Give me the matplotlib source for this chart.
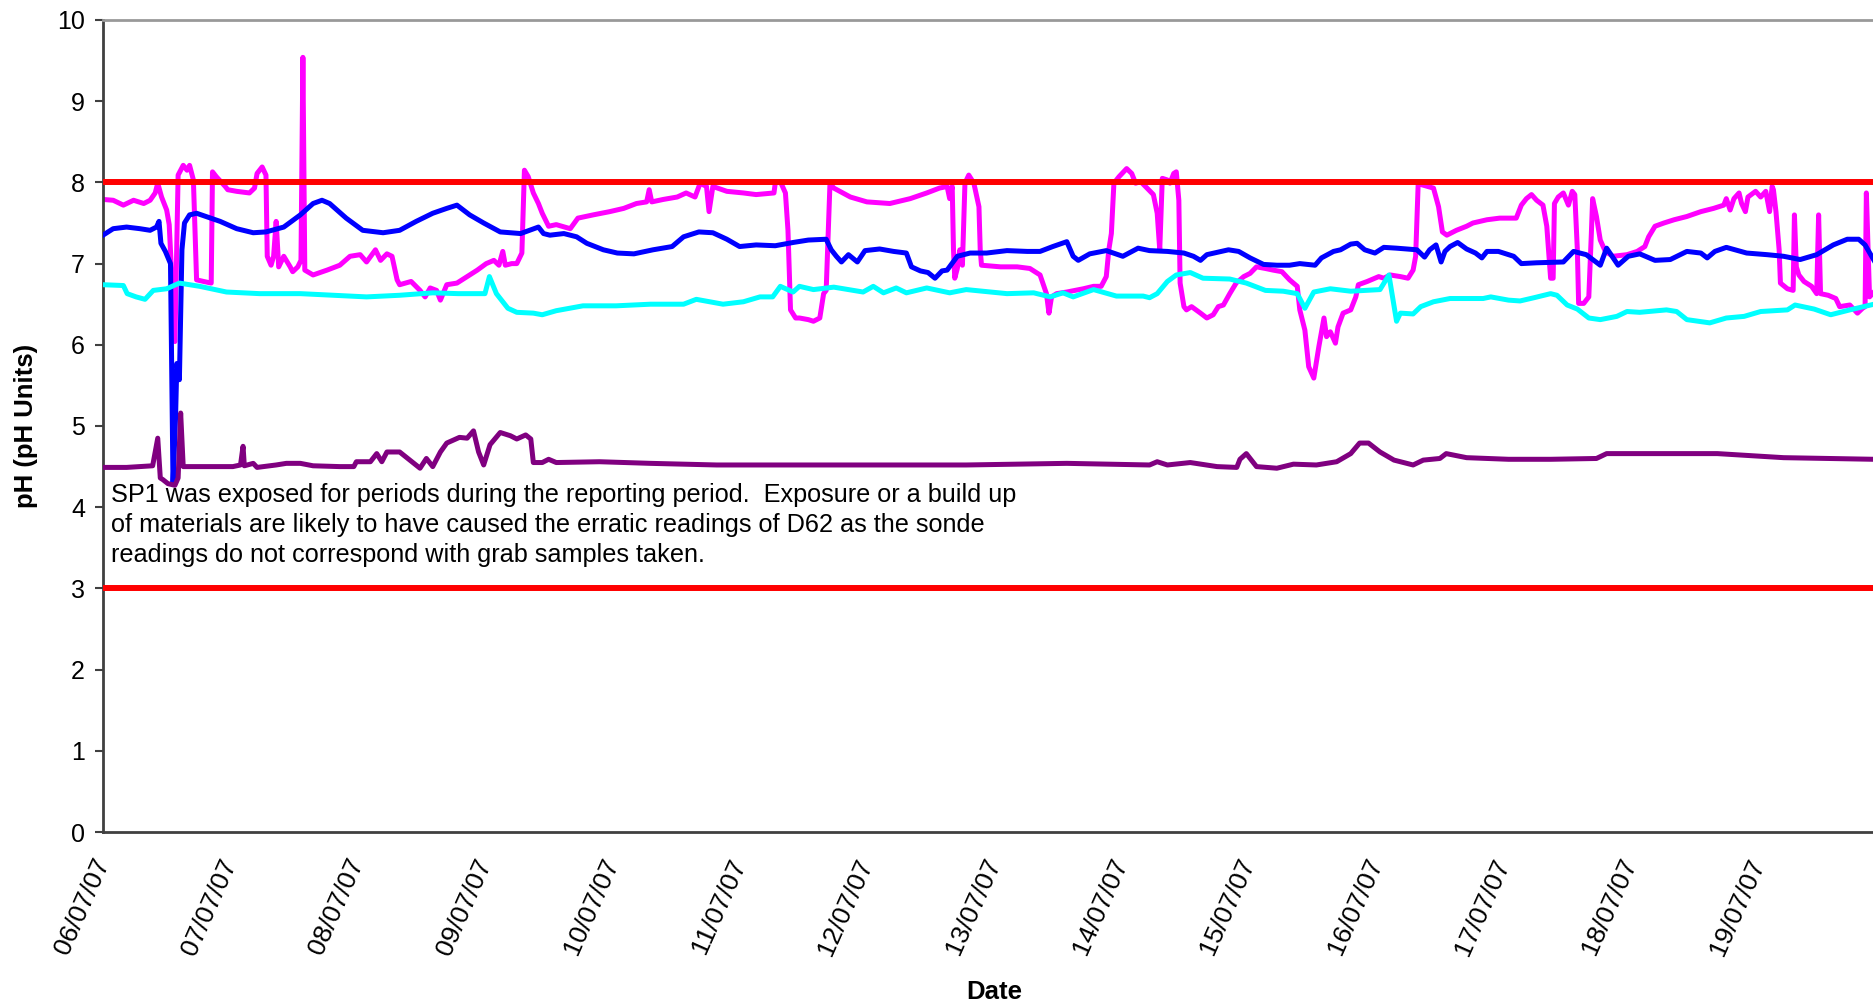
import datetime as dt
import numpy as np
import matplotlib
matplotlib.use("Agg")
import matplotlib.pyplot as plt
import matplotlib.dates as mdates

plt.rcParams['font.family'] = ['Liberation Sans', 'DejaVu Sans']

start_date = dt.datetime(2007, 7, 6)
end_days = 13.91

# ---- series (days since 06/07/07 00:00, pH) ----
magenta_days = [0.00, 0.08, 0.16, 0.24, 0.32, 0.37, 0.41, 0.43, 0.46, 0.50, 0.52, 0.565, 0.59, 0.63, 0.66, 0.68, 0.71, 0.735, 0.79, 0.85,
                0.86, 0.89, 0.96, 0.98, 1.05, 1.15, 1.19, 1.21, 1.25, 1.28, 1.29, 1.32, 1.34, 1.36, 1.38, 1.42, 1.47, 1.49, 1.53, 1.555,
                1.57, 1.585, 1.65, 1.76, 1.86, 1.94, 2.02, 2.07, 2.14, 2.18, 2.23, 2.27, 2.31, 2.33, 2.42, 2.49, 2.53, 2.57, 2.62, 2.65,
                2.70, 2.78, 2.94, 3.01, 3.07, 3.11, 3.14, 3.16, 3.21, 3.25, 3.29, 3.31, 3.34, 3.38, 3.42, 3.45, 3.50, 3.56, 3.67, 3.73,
                3.85, 3.98, 4.09, 4.19, 4.27, 4.29, 4.31, 4.40, 4.51, 4.58, 4.65, 4.69, 4.74, 4.76, 4.79, 4.90, 5.03, 5.13, 5.27, 5.28,
                5.32, 5.36, 5.38, 5.40, 5.44, 5.47, 5.54, 5.58, 5.63, 5.66, 5.68, 5.71, 5.74, 5.87, 6.00, 6.18, 6.34, 6.47, 6.57, 6.63,
                6.65, 6.67, 6.68, 6.69, 6.71, 6.73, 6.75, 6.77, 6.80, 6.84, 6.88, 6.89, 6.90, 7.05, 7.18, 7.28, 7.36, 7.41, 7.43, 7.45,
                7.49, 7.57, 7.70, 7.78, 7.84, 7.88, 7.90, 7.92, 7.94, 7.98, 8.04, 8.08, 8.11, 8.15, 8.20, 8.25, 8.28, 8.30, 8.32, 8.36,
                8.38, 8.41, 8.43, 8.45, 8.46, 8.49, 8.51, 8.55, 8.62, 8.67, 8.72, 8.76, 8.80, 8.85, 8.90, 8.96, 9.01, 9.06, 9.13, 9.19,
                9.26, 9.32, 9.38, 9.40, 9.44, 9.47, 9.51, 9.55, 9.59, 9.61, 9.64, 9.68, 9.70, 9.74, 9.80, 9.84, 9.86, 9.93, 10.02, 10.06,
                10.11, 10.19, 10.25, 10.29, 10.31, 10.33, 10.36, 10.45, 10.49, 10.52, 10.555, 10.63, 10.71, 10.76, 10.87, 10.97, 11.10, 11.14, 11.18, 11.22,
                11.26, 11.31, 11.34, 11.37, 11.39, 11.40, 11.43, 11.47, 11.51, 11.54, 11.56, 11.58, 11.59, 11.63, 11.67, 11.69, 11.70, 11.73, 11.76, 11.80,
                11.86, 11.97, 12.05, 12.11, 12.14, 12.19, 12.26, 12.34, 12.44, 12.55, 12.65, 12.73, 12.75, 12.78, 12.81, 12.85, 12.87, 12.90, 12.92, 12.98,
                13.02, 13.06, 13.09, 13.11, 13.12, 13.14, 13.165, 13.175, 13.23, 13.275, 13.285, 13.30, 13.32, 13.36, 13.42, 13.46, 13.475, 13.49, 13.55, 13.61,
                13.64, 13.72, 13.78, 13.82, 13.84, 13.85, 13.875, 13.91]
magenta_ph = [7.79, 7.78, 7.72, 7.78, 7.74, 7.78, 7.87, 7.99, 7.82, 7.66, 7.48, 6.04, 8.09, 8.21, 8.15, 8.21, 8.03, 6.80, 6.78, 6.76,
              8.13, 8.07, 7.95, 7.91, 7.89, 7.87, 7.93, 8.11, 8.19, 8.09, 7.09, 6.98, 7.09, 7.52, 6.96, 7.09, 6.96, 6.90, 6.96, 7.04,
              9.54, 6.92, 6.86, 6.92, 6.98, 7.09, 7.11, 7.02, 7.17, 7.04, 7.12, 7.09, 6.80, 6.74, 6.78, 6.67, 6.59, 6.70, 6.67, 6.55,
              6.74, 6.76, 6.92, 7.00, 7.04, 6.98, 7.15, 6.98, 7.00, 7.00, 7.13, 8.15, 8.07, 7.87, 7.74, 7.62, 7.46, 7.48, 7.43, 7.56,
              7.60, 7.64, 7.68, 7.74, 7.76, 7.91, 7.76, 7.79, 7.82, 7.87, 7.82, 7.99, 7.95, 7.64, 7.95, 7.89, 7.87, 7.85, 7.87, 7.99,
              8.01, 7.87, 7.41, 6.43, 6.33, 6.33, 6.31, 6.29, 6.33, 6.63, 6.67, 7.99, 7.93, 7.82, 7.76, 7.74, 7.80, 7.87, 7.93, 7.95,
              7.80, 7.95, 7.17, 6.82, 6.94, 7.17, 6.98, 7.99, 8.09, 7.99, 7.70, 7.17, 6.98, 6.96, 6.96, 6.94, 6.86, 6.63, 6.39, 6.59,
              6.63, 6.65, 6.69, 6.72, 6.72, 6.84, 7.17, 7.37, 7.99, 8.07, 8.17, 8.11, 7.99, 8.01, 7.93, 7.85, 7.62, 7.17, 8.05, 8.03,
              7.99, 8.11, 8.13, 7.78, 6.76, 6.47, 6.43, 6.47, 6.39, 6.33, 6.37, 6.47, 6.49, 6.63, 6.76, 6.84, 6.88, 6.96, 6.94, 6.92,
              6.90, 6.80, 6.72, 6.43, 6.18, 5.73, 5.59, 5.98, 6.33, 6.10, 6.16, 6.02, 6.22, 6.39, 6.43, 6.59, 6.74, 6.78, 6.84, 6.82,
              6.86, 6.84, 6.82, 6.92, 7.09, 7.99, 7.97, 7.93, 7.70, 7.39, 7.35, 7.41, 7.46, 7.50, 7.54, 7.56, 7.56, 7.72, 7.80, 7.85,
              7.78, 7.72, 7.46, 6.82, 6.82, 7.74, 7.82, 7.87, 7.72, 7.89, 7.85, 7.17, 6.51, 6.51, 6.59, 7.37, 7.80, 7.58, 7.29, 7.15,
              7.09, 7.11, 7.15, 7.21, 7.33, 7.46, 7.50, 7.54, 7.58, 7.64, 7.68, 7.72, 7.80, 7.66, 7.80, 7.87, 7.74, 7.64, 7.82, 7.89,
              7.82, 7.89, 7.64, 7.95, 7.91, 7.64, 7.17, 6.76, 6.69, 6.67, 7.60, 6.96, 6.86, 6.78, 6.72, 6.63, 7.60, 6.63, 6.61, 6.57,
              6.47, 6.49, 6.39, 6.45, 6.47, 7.87, 6.59, 6.65]

blue_days = [0.00, 0.08, 0.185, 0.29, 0.37, 0.42, 0.44, 0.455, 0.49, 0.53, 0.55, 0.57, 0.58, 0.60, 0.62, 0.64, 0.68, 0.735, 0.81, 0.92,
             1.05, 1.18, 1.28, 1.42, 1.55, 1.65, 1.72, 1.78, 1.91, 2.04, 2.20, 2.33, 2.46, 2.59, 2.70, 2.78, 2.88, 2.99, 3.12, 3.28,
             3.35, 3.42, 3.46, 3.51, 3.62, 3.72, 3.80, 3.93, 4.04, 4.17, 4.32, 4.47, 4.56, 4.68, 4.79, 4.90, 5.00, 5.13, 5.28, 5.42,
             5.54, 5.68, 5.72, 5.76, 5.80, 5.855, 5.925, 5.985, 6.10, 6.21, 6.31, 6.35, 6.42, 6.48, 6.535, 6.59, 6.63, 6.71, 6.81, 6.94,
             7.10, 7.26, 7.36, 7.46, 7.57, 7.62, 7.66, 7.75, 7.88, 8.01, 8.13, 8.22, 8.36, 8.49, 8.565, 8.62, 8.67, 8.84, 8.92, 9.01,
             9.115, 9.22, 9.32, 9.40, 9.52, 9.57, 9.665, 9.72, 9.80, 9.85, 9.91, 9.99, 10.06, 10.16, 10.32, 10.38, 10.42, 10.47, 10.51, 10.54,
             10.58, 10.64, 10.71, 10.78, 10.83, 10.87, 10.96, 11.04, 11.08, 11.14, 11.26, 11.47, 11.55, 11.65, 11.76, 11.81, 11.90, 11.98, 12.07, 12.19,
             12.31, 12.44, 12.55, 12.60, 12.66, 12.75, 12.91, 13.07, 13.20, 13.33, 13.46, 13.59, 13.70, 13.79, 13.84, 13.91]
blue_ph = [7.35, 7.43, 7.45, 7.43, 7.41, 7.45, 7.52, 7.25, 7.15, 7.00, 4.29, 5.11, 5.77, 5.57, 7.17, 7.50, 7.60, 7.62, 7.58, 7.52,
           7.43, 7.38, 7.39, 7.45, 7.60, 7.74, 7.78, 7.74, 7.56, 7.41, 7.38, 7.41, 7.52, 7.62, 7.68, 7.72, 7.60, 7.50, 7.39, 7.37,
           7.41, 7.45, 7.37, 7.35, 7.37, 7.33, 7.25, 7.17, 7.13, 7.12, 7.17, 7.21, 7.33, 7.39, 7.38, 7.30, 7.21, 7.23, 7.22, 7.26,
           7.29, 7.30, 7.17, 7.09, 7.02, 7.11, 7.02, 7.16, 7.18, 7.15, 7.13, 6.96, 6.91, 6.89, 6.82, 6.91, 6.92, 7.09, 7.13, 7.13,
           7.16, 7.15, 7.15, 7.21, 7.27, 7.09, 7.04, 7.12, 7.16, 7.09, 7.19, 7.16, 7.15, 7.13, 7.09, 7.04, 7.11, 7.17, 7.15, 7.07,
           6.99, 6.98, 6.98, 7.00, 6.98, 7.07, 7.15, 7.17, 7.24, 7.25, 7.17, 7.13, 7.20, 7.19, 7.17, 7.08, 7.17, 7.23, 7.02, 7.15,
           7.21, 7.26, 7.18, 7.13, 7.07, 7.15, 7.15, 7.11, 7.09, 7.00, 7.01, 7.02, 7.15, 7.11, 6.98, 7.19, 6.98, 7.09, 7.12, 7.04,
           7.05, 7.15, 7.13, 7.07, 7.15, 7.20, 7.13, 7.11, 7.09, 7.05, 7.11, 7.23, 7.30, 7.30, 7.23, 7.04]

cyan_days = [0.00, 0.16, 0.19, 0.26, 0.33, 0.395, 0.50, 0.60, 0.76, 0.97, 1.23, 1.55, 1.81, 2.07, 2.33, 2.59, 2.79, 3.00, 3.035, 3.09,
             3.18, 3.25, 3.38, 3.45, 3.56, 3.77, 4.03, 4.30, 4.56, 4.66, 4.87, 5.03, 5.16, 5.26, 5.32, 5.42, 5.47, 5.58, 5.74, 5.97,
             6.05, 6.13, 6.23, 6.31, 6.47, 6.65, 6.78, 7.10, 7.31, 7.44, 7.54, 7.62, 7.78, 7.96, 8.17, 8.22, 8.28, 8.36, 8.43, 8.54,
             8.64, 8.85, 8.98, 9.13, 9.27, 9.38, 9.44, 9.51, 9.64, 9.80, 10.03, 10.10, 10.16, 10.19, 10.29, 10.35, 10.45, 10.58, 10.84, 10.90,
             11.04, 11.13, 11.24, 11.37, 11.42, 11.50, 11.58, 11.67, 11.76, 11.89, 11.97, 12.07, 12.28, 12.36, 12.44, 12.62, 12.75, 12.89, 13.02, 13.23,
             13.29, 13.44, 13.57, 13.72, 13.91]
cyan_ph = [6.74, 6.73, 6.63, 6.59, 6.56, 6.67, 6.69, 6.76, 6.72, 6.65, 6.63, 6.63, 6.61, 6.59, 6.61, 6.64, 6.63, 6.63, 6.84, 6.63,
           6.45, 6.40, 6.39, 6.37, 6.42, 6.48, 6.48, 6.50, 6.50, 6.56, 6.50, 6.53, 6.59, 6.59, 6.72, 6.65, 6.72, 6.68, 6.71, 6.65,
           6.72, 6.64, 6.70, 6.64, 6.70, 6.64, 6.68, 6.63, 6.64, 6.59, 6.64, 6.59, 6.68, 6.60, 6.60, 6.58, 6.63, 6.78, 6.86, 6.89,
           6.82, 6.81, 6.76, 6.67, 6.66, 6.63, 6.45, 6.65, 6.69, 6.66, 6.68, 6.86, 6.29, 6.39, 6.38, 6.47, 6.53, 6.57, 6.57, 6.59,
           6.55, 6.54, 6.58, 6.63, 6.61, 6.49, 6.44, 6.33, 6.31, 6.35, 6.41, 6.40, 6.43, 6.41, 6.31, 6.27, 6.33, 6.35, 6.41, 6.43,
           6.49, 6.44, 6.37, 6.43, 6.50]

purple_days = [0.00, 0.185, 0.39, 0.43, 0.45, 0.47, 0.51, 0.565, 0.59, 0.61, 0.63, 0.76, 1.02, 1.08, 1.10, 1.11, 1.18, 1.21, 1.36, 1.44,
               1.55, 1.65, 1.86, 1.97, 1.99, 2.10, 2.15, 2.19, 2.23, 2.33, 2.41, 2.49, 2.54, 2.59, 2.65, 2.70, 2.80, 2.86, 2.91, 2.95,
               2.99, 3.04, 3.12, 3.20, 3.25, 3.32, 3.36, 3.38, 3.45, 3.50, 3.56, 3.90, 4.30, 4.82, 5.54, 6.00, 6.78, 7.57, 8.22, 8.28,
               8.36, 8.54, 8.75, 8.905, 8.93, 8.98, 9.02, 9.06, 9.22, 9.35, 9.53, 9.69, 9.80, 9.87, 9.94, 10.03, 10.14, 10.29, 10.37, 10.50,
               10.55, 10.71, 11.04, 11.37, 11.73, 11.81, 12.28, 12.68, 13.20, 13.91]
purple_ph = [4.49, 4.49, 4.51, 4.85, 4.36, 4.34, 4.29, 4.27, 4.36, 5.16, 4.50, 4.50, 4.50, 4.52, 4.75, 4.51, 4.54, 4.49, 4.52, 4.54,
             4.54, 4.51, 4.50, 4.50, 4.56, 4.56, 4.66, 4.56, 4.68, 4.68, 4.58, 4.48, 4.60, 4.50, 4.68, 4.79, 4.86, 4.85, 4.94, 4.68,
             4.52, 4.77, 4.92, 4.88, 4.84, 4.89, 4.84, 4.55, 4.55, 4.59, 4.55, 4.56, 4.54, 4.52, 4.52, 4.52, 4.52, 4.54, 4.52, 4.56,
             4.52, 4.55, 4.50, 4.49, 4.59, 4.66, 4.58, 4.50, 4.48, 4.53, 4.52, 4.56, 4.66, 4.79, 4.79, 4.68, 4.58, 4.52, 4.58, 4.60,
             4.66, 4.61, 4.59, 4.59, 4.60, 4.66, 4.66, 4.66, 4.61, 4.59]

upper_limit = 8.0
lower_limit = 3.0

y_ticks = [0, 1, 2, 3, 4, 5, 6, 7, 8, 9, 10]
x_tick_labels = ["06/07/07", "07/07/07", "08/07/07", "09/07/07", "10/07/07", "11/07/07", "12/07/07",
                 "13/07/07", "14/07/07", "15/07/07", "16/07/07", "17/07/07", "18/07/07", "19/07/07"]

note_text = ("SP1 was exposed for periods during the reporting period.  Exposure or a build up\n"
             "of materials are likely to have caused the erratic readings of D62 as the sonde\n"
             "readings do not correspond with grab samples taken.")

# ---- figure ----
base = mdates.date2num(start_date)


def to_x(days):
    return base + np.asarray(days, dtype=float)


fig = plt.figure(figsize=(18.74, 10.05), dpi=100)
ax = fig.add_axes([103 / 1874, 1 - 832 / 1005, 1 - 103 / 1874, (832 - 20) / 1005])

lw = 3.6
ax.plot(to_x(magenta_days), magenta_ph, color='#FF00FF', lw=lw, solid_joinstyle='round', zorder=2)
ax.plot(to_x(blue_days), blue_ph, color='#0000FF', lw=lw, solid_joinstyle='round', zorder=3)
ax.plot(to_x(cyan_days), cyan_ph, color='#00FFFF', lw=lw, solid_joinstyle='round', zorder=4)
ax.plot(to_x(purple_days), purple_ph, color='#800080', lw=lw, solid_joinstyle='round', zorder=5)
ax.axhline(upper_limit, color='#FF0000', lw=4.3, zorder=6)
ax.axhline(lower_limit, color='#FF0000', lw=4.3, zorder=6)

ax.set_xlim(base, base + end_days)
ax.set_ylim(0, 10)
ax.set_yticks(y_ticks)
ax.set_yticklabels([str(v) for v in y_ticks], fontsize=18)
ax.set_xticks(to_x(range(len(x_tick_labels))))
ax.set_xticklabels(x_tick_labels, fontsize=19, rotation=66, ha='right', va='center', rotation_mode='anchor')
ax.tick_params(axis='y', direction='out', length=6, width=1.5, color='#404040', pad=7)
ax.tick_params(axis='x', length=0, pad=20)

for side in ['left', 'bottom']:
    ax.spines[side].set_color('#404040')
    ax.spines[side].set_linewidth(2)
ax.spines['top'].set_color('#999999')
ax.spines['top'].set_linewidth(2)
ax.spines['right'].set_visible(False)

ax.set_ylabel("pH (pH Units)", fontsize=18.5, fontweight='bold', labelpad=14)
ax.set_xlabel("Date", fontsize=18.5, fontweight='bold')
ax.xaxis.set_label_coords((994 - 103) / 1771, -(992 - 832) / 812)
ax.xaxis.label.set_va('center')

ax.text(base + 0.06, 4.3, note_text, fontsize=18.2, va='top', ha='left', linespacing=1.32, zorder=7)

fig.savefig("out.png", dpi=100)
